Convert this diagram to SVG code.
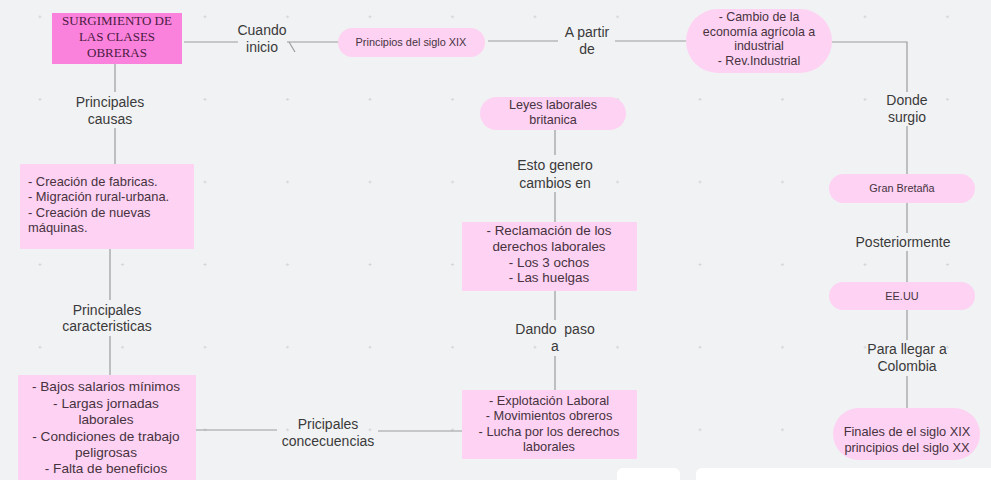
<svg xmlns="http://www.w3.org/2000/svg" width="991" height="480" viewBox="0 0 991 480">
<defs>
<pattern id="grid" x="0" y="0" width="82.5" height="82.6" patternUnits="userSpaceOnUse" patternTransform="translate(-1.5,-24.5)">
<path d="M40 41.3h3M41.5 39.8v3" stroke="#c4c6cc" stroke-width="0.6"/>
</pattern>
<style>
.bg{fill:#f1f2f4}
.ln{stroke:#9c9c9c;stroke-width:1.2;fill:none}
.lb{font-family:"Liberation Sans",Arial,sans-serif;font-size:14px;fill:#3a3a3a;text-anchor:middle}
.nt{font-family:"Liberation Sans",Arial,sans-serif;fill:#46333f;text-anchor:middle}
.lt{font-family:"Liberation Sans",Arial,sans-serif;font-size:12.9px;fill:#46333f}
.pk{fill:#fed2f2}
.hd{fill:#fb82dc}
.ht{font-family:"Liberation Serif","Times New Roman",serif;font-size:13px;fill:#4a1a42;text-anchor:middle}
.s106{font-size:10.9px}
.s124{font-size:12.4px}
.s126{font-size:12.6px}
.s128{font-size:12.8px}
.s134{font-size:13.4px}
.s136{font-size:13.6px}
</style>
</defs>
<rect class="bg" width="991" height="480"/>
<rect fill="url(#grid)" width="991" height="480"/>

<g id="connectors">
<path class="ln" d="M184 42H238M287 42H338"/>
<path class="ln" d="M289 42L295 52" stroke-width="0.8"/>
<path class="ln" d="M488 41H558M615 41H686"/>
<path class="ln" d="M832 42H907V92M907 126V174M907 203V233M907 251V282M907 310V340M907 376V408"/>
<path class="ln" d="M555 130V155M555 192V222M555 291V320M555 356V390"/>
<path class="ln" d="M115 64V92M115 128V164M110 249V300M110 336V375"/>
<path class="ln" d="M196 430H277M378 431H462"/>
</g>

<g id="n-surgimiento">
<rect class="hd" x="52" y="13" width="130" height="51"/>
<text class="ht" x="117" y="25">SURGIMIENTO DE</text>
<text class="ht" x="117" y="41">LAS CLASES</text>
<text class="ht" x="117" y="57">OBRERAS</text>
</g>
<g id="l-cuando"><text class="lb" x="262" y="35">Cuando</text><text class="lb" x="262" y="52">inicio</text></g>
<g id="n-principios">
<rect class="pk" x="338" y="28" width="147" height="29" rx="14.5"/>
<text class="nt s106" x="411" y="46">Principios del siglo XIX</text>
</g>
<g id="l-apartir"><text class="lb" x="587" y="37">A partir</text><text class="lb" x="587" y="54">de</text></g>
<g id="n-cambio">
<rect class="pk" x="686" y="9" width="146" height="64" rx="32"/>
<text class="nt s124" x="759" y="21">- Cambio de la</text>
<text class="nt s124" x="759" y="36">economía agrícola a</text>
<text class="nt s124" x="759" y="50">industrial</text>
<text class="nt s124" x="759" y="65">- Rev.Industrial</text>
</g>
<g id="l-donde"><text class="lb" x="907" y="105">Donde</text><text class="lb" x="907" y="122">surgio</text></g>
<g id="n-gran">
<rect class="pk" x="829" y="174" width="146" height="29" rx="14.5"/>
<text class="nt s106" x="902" y="192">Gran Bretaña</text>
</g>
<g id="l-post"><text class="lb" x="903" y="247">Posteriormente</text></g>
<g id="n-eeuu">
<rect class="pk" x="829" y="282" width="146" height="28" rx="14"/>
<text class="nt s106" x="902" y="300">EE.UU</text>
</g>
<g id="l-para"><text class="lb" x="907" y="354">Para llegar a</text><text class="lb" x="907" y="371">Colombia</text></g>
<g id="n-finales">
<rect class="pk" x="833" y="408" width="147" height="52" rx="26"/>
<text class="nt s128" x="907" y="436">Finales de el siglo XIX</text>
<text class="nt s128" x="907" y="452">principios del siglo XX</text>
</g>

<g id="n-leyes">
<rect class="pk" x="480" y="97" width="146" height="33" rx="16.5"/>
<text class="nt s126" x="553" y="109">Leyes laborales</text>
<text class="nt s126" x="553" y="124">britanica</text>
</g>
<g id="l-esto"><text class="lb" x="555" y="170">Esto genero</text><text class="lb" x="555" y="188">cambios en</text></g>
<g id="n-reclamacion">
<rect class="pk" x="462" y="222" width="175" height="69" rx="1"/>
<text class="nt s134" x="549" y="235">- Reclamación de los</text>
<text class="nt s134" x="549" y="251">derechos laborales</text>
<text class="nt s134" x="549" y="267">- Los 3 ochos</text>
<text class="nt s134" x="549" y="282">- Las huelgas</text>
</g>
<g id="l-dando"><text class="lb" x="555" y="334">Dando&#160; paso</text><text class="lb" x="555" y="351">a</text></g>
<g id="n-explotacion">
<rect class="pk" x="462" y="390" width="175" height="69" rx="1"/>
<text class="nt s128" x="549" y="405">- Explotación Laboral</text>
<text class="nt s128" x="549" y="420">- Movimientos obreros</text>
<text class="nt s128" x="549" y="436">- Lucha por los derechos</text>
<text class="nt s128" x="549" y="451">laborales</text>
</g>

<g id="l-causas"><text class="lb" x="110" y="107">Principales</text><text class="lb" x="110" y="124">causas</text></g>
<g id="n-creacion">
<rect class="pk" x="20" y="164" width="174" height="85" rx="1"/>
<text class="lt" x="28" y="186">- Creación de fabricas.</text>
<text class="lt" x="28" y="201">- Migración rural-urbana.</text>
<text class="lt" x="28" y="217">- Creación de nuevas</text>
<text class="lt" x="28" y="232">máquinas.</text>
</g>
<g id="l-caract"><text class="lb" x="107" y="315">Principales</text><text class="lb" x="107" y="331">caracteristicas</text></g>
<g id="n-bajos">
<rect class="pk" x="18" y="375" width="178" height="110" rx="1"/>
<text class="nt s136" x="106" y="391">- Bajos salarios mínimos</text>
<text class="nt s136" x="106" y="408">- Largas jornadas</text>
<text class="nt s136" x="106" y="424">laborales</text>
<text class="nt s136" x="106" y="441">- Condiciones de trabajo</text>
<text class="nt s136" x="106" y="457">peligrosas</text>
<text class="nt s136" x="106" y="473">- Falta de beneficios</text>
</g>
<g id="l-conse"><text class="lb" x="328" y="429">Pricipales</text><text class="lb" x="328" y="446">concecuencias</text></g>

<rect x="617" y="468" width="63" height="20" rx="6" fill="#ffffff"/>
<rect x="696" y="468" width="300" height="20" rx="6" fill="#ffffff"/>
</svg>
